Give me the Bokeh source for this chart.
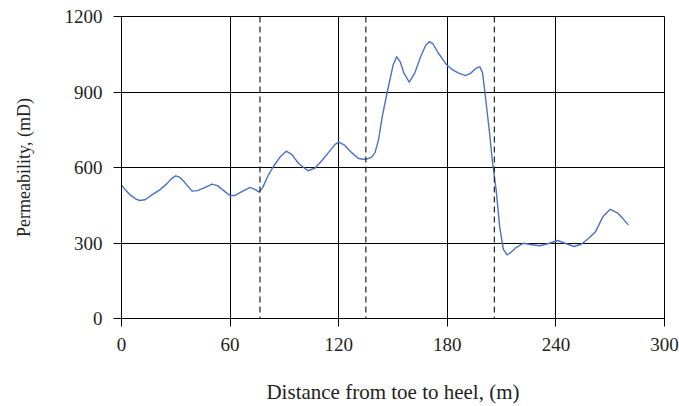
from bokeh.plotting import figure
from bokeh.models import Range1d, FixedTicker, Span
from bokeh.embed import file_html
from bokeh.resources import INLINE

# Permeability profile along the well, toe to heel
distance_m = [0, 2, 5, 8, 10, 13, 17, 21, 25, 28, 30, 32, 35, 39, 42, 46, 50,
              53, 57, 60, 63, 67, 71, 74, 76, 78, 81, 84, 88, 91, 94, 98, 103,
              107, 111, 115, 118, 120, 123, 127, 131, 135, 138, 140, 142, 144,
              147, 150, 152, 154, 156, 159, 162, 165, 168, 170, 172, 175, 178,
              180, 183, 186, 190, 193, 196, 198, 199.5, 201, 203, 205, 207,
              209, 211, 213, 215, 218, 222, 226, 231, 236, 241, 245, 250, 254,
              258, 262, 266, 270, 274, 277, 280]
permeability_md = [530, 512, 490, 474, 469, 472, 492, 510, 535, 558, 567, 562,
                   540, 506, 508, 520, 534, 528, 505, 488, 490, 506, 521, 512,
                   502, 520, 568, 605, 645, 665, 652, 615, 587, 598, 630, 665,
                   692, 701, 690, 660, 636, 632, 640, 658, 710, 800, 906, 1005,
                   1040, 1020, 975, 939, 975, 1035, 1085, 1100, 1092, 1055,
                   1025, 1005, 988, 976, 965, 975, 995, 1000, 975, 885, 760,
                   620, 510, 360, 275, 253, 262, 282, 299, 294, 289, 298, 310,
                   299, 286, 295, 318, 346, 405, 434, 420, 397, 372]

# Zone boundaries (dashed)
zone_bounds_m = [76.5, 135, 206]

x_ticks = [0, 60, 120, 180, 240, 300]
y_ticks = [0, 300, 600, 900, 1200]

FONT = "Liberation Serif"
TEXT = "#231f20"

p = figure(width=679, height=406, output_backend="svg", toolbar_location=None,
           x_range=Range1d(0, 300), y_range=Range1d(0, 1200))
p.min_border_left = 121
p.min_border_right = 15
p.min_border_top = 16
p.min_border_bottom = 87
p.background_fill_color = "white"
p.border_fill_color = "white"
p.outline_line_color = "black"
p.outline_line_width = 1

for ax, ticks in ((p.xaxis[0], x_ticks), (p.yaxis[0], y_ticks)):
    ax.ticker = FixedTicker(ticks=ticks)
    ax.minor_tick_line_color = None
    ax.major_tick_in = 0
    ax.major_tick_out = 8
    ax.major_tick_line_color = "black"
    ax.axis_line_color = "black"
    ax.major_label_text_font = FONT
    ax.major_label_text_font_size = "19px"
    ax.major_label_text_color = TEXT
    ax.axis_label_text_font = FONT
    ax.axis_label_text_font_style = "normal"
    ax.axis_label_text_color = TEXT

p.xaxis.axis_label = "Distance from toe to heel, (m)"
p.yaxis.axis_label = "Permeability, (mD)"
p.xaxis.axis_label_text_font_size = "21px"
p.yaxis.axis_label_text_font_size = "18px"
p.xaxis.major_label_standoff = 11
p.xaxis.axis_label_standoff = 26
p.yaxis.major_label_standoff = 11
p.yaxis.axis_label_standoff = 28

p.xgrid.ticker = FixedTicker(ticks=x_ticks)
p.ygrid.ticker = FixedTicker(ticks=y_ticks)
for g in (p.xgrid[0], p.ygrid[0]):
    g.grid_line_color = "black"
    g.grid_line_width = 1
    g.grid_line_alpha = 1

for xb in zone_bounds_m:
    p.add_layout(Span(location=xb, dimension="height", line_color="#222222",
                      line_width=1.2, line_dash="6 4"))

p.line(distance_m, permeability_md, line_color="#4a72c4", line_width=1.4,
       line_join="round")

open("out.html", "w").write(file_html(p, INLINE))
